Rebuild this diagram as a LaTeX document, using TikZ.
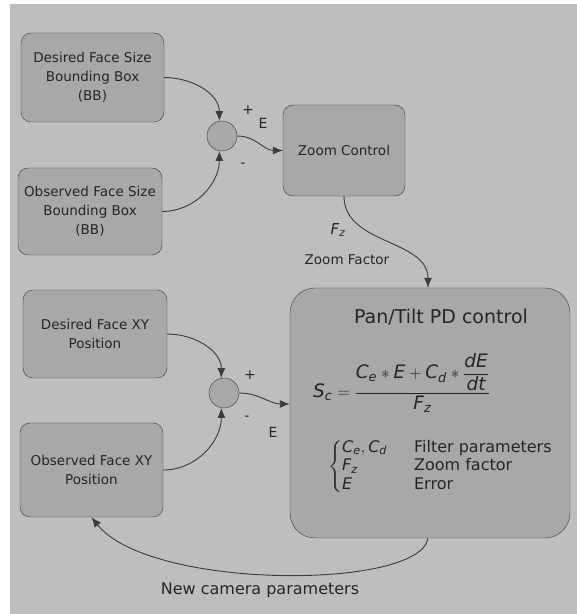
\documentclass[tikz,border=0pt]{standalone}
\usepackage{amsmath}
\usepackage{array}
\usepackage{fontspec}
\setmainfont{DejaVu Sans}
\usetikzlibrary{arrows.meta}

\definecolor{bggray}{RGB}{190,190,190}
\definecolor{boxgray}{RGB}{168,168,168}
\definecolor{linegray}{RGB}{60,60,60}
\newcommand{\mv}[1]{\textit{#1}}

\tikzset{
	block/.style={draw=linegray, fill=boxgray, rounded corners=10pt, align=center,
		inner sep=0pt, text=black!85, font=\fontsize{13.5}{19}\selectfont},
	sumnode/.style={draw=linegray, fill=boxgray, circle, minimum size=30pt, inner sep=0pt},
	wire/.style={linegray, line width=0.9pt, -{Latex[length=10pt,width=8pt]}},
	tag/.style={inner sep=0pt, text=black!85, font=\fontsize{14}{16}\selectfont}
}

\begin{document}
\begin{tikzpicture}[x=1pt, y=1pt]
	\fill[white] (0,0) rectangle (577,614);
	\fill[bggray] (10,0) rectangle (577,610);
	\useasboundingbox (0,0) rectangle (577,614);

	% zoom loop
	\node[block, minimum width=143pt, minimum height=89pt] (desiredbb) at (92.5,536.5)
		{Desired Face Size\\Bounding Box\\(BB)};
	\node[block, minimum width=144pt, minimum height=87pt] (observedbb) at (90,402.5)
		{Observed Face Size\\Bounding Box\\(BB)};
	\node[sumnode] (sumbb) at (222,478) {};
	\node[block, minimum width=122pt, minimum height=91pt] (zoomctrl) at (344,463.5)
		{Zoom Control};

	% pan/tilt loop
	\node[block, minimum width=144pt, minimum height=88pt] (desiredxy) at (95,280)
		{Desired Face XY\\Position};
	\node[block, minimum width=143pt, minimum height=94pt] (observedxy) at (91.5,144)
		{Observed Face XY\\Position};
	\node[sumnode] (sumxy) at (224,221) {};
	\node[block, rounded corners=25pt, minimum width=280pt, minimum height=250pt] (panctrl) at (430,201)
		{};

	\node[tag, font=\fontsize{19}{22}\selectfont] (pantitle) at (441,297)
		{Pan/Tilt PD control};
	\node[tag, anchor=base west, font=\fontsize{18.5}{22}\selectfont] (panlaw) at (313,216)
		{$\mv{S}_{\mv{c}} = \dfrac{\mv{C}_{\mv{e}} * \mv{E} + \mv{C}_{\mv{d}} * \dfrac{\mv{dE}}{\mv{dt}}}{\mv{F}_{\mv{z}}}$};
	\node[tag, anchor=west, font=\fontsize{16}{18.5}\selectfont] (panlegend) at (328,147)
		{$\left\{\begin{array}{@{}>{$}p{72pt}<{$}@{}l@{}}
			\mv{C}_{\mv{e}},\mv{C}_{\mv{d}} & \text{Filter parameters}\\
			\mv{F}_{\mv{z}} & \text{Zoom factor}\\
			\mv{E} & \text{Error}
		\end{array}\right.$};

	% signs and labels
	\node[tag] (plusbb)  at (248,504) {+};
	\node[tag] (minusbb) at (243,449) {-};
	\node[tag] (errbb)   at (263,491) {E};
	\node[tag] (plusxy)  at (250,239) {+};
	\node[tag] (minusxy) at (247,196) {-};
	\node[tag] (errxy)   at (273,182) {E};
	\node[tag, font=\fontsize{15}{17}\itshape] (fz) at (338,384) {F$_{\text{z}}$};
	\node[tag, font=\fontsize{13.5}{16}\selectfont] (zoomfactor) at (347,354) {Zoom Factor};
	\node[tag, font=\fontsize{16}{18}\selectfont] (newparams) at (260,24) {New camera parameters};

	\draw[wire] (desiredbb.east) to[out=0, in=90] (sumbb.100);
	\draw[wire] (observedbb.east) to[out=0, in=-90] (sumbb.-100);
	\draw[wire] (sumbb.east) to[out=0, in=180] (zoomctrl.west);
	\draw[wire] (zoomctrl.south) to[out=-90, in=90] ([xshift=-2pt]panctrl.north);

	\draw[wire] (desiredxy.east) to[out=0, in=90] (sumxy.100);
	\draw[wire] (observedxy.east) to[out=0, in=-90] (sumxy.-100);
	\draw[wire] (sumxy.east) to[out=0, in=180] ([yshift=9pt]panctrl.west);
	\draw[wire] ([xshift=-2pt]panctrl.south) .. controls +(-8,-52) and +(58,-73) .. (observedxy.south);
\end{tikzpicture}
\end{document}
